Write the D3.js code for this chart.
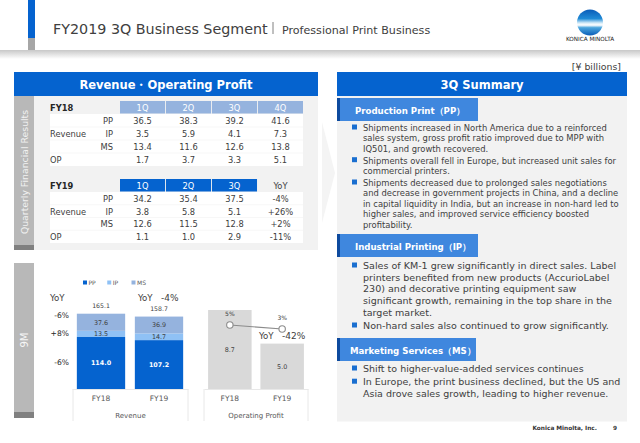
<!DOCTYPE html>
<html>
<head>
<meta charset="utf-8">
<script src="https://cdn.jsdelivr.net/npm/d3@7"></script>
<style>
html, body { margin: 0; padding: 0; background: #fff; }
svg { display: block; }
text { font-family: "DejaVu Sans", sans-serif; fill: #404040; }
</style>
</head>
<body>
<svg width="640" height="443"></svg>
<script>
// quarterly tables
const quarters18 = ['1Q', '2Q', '3Q', '4Q'];
const quarters19 = ['1Q', '2Q', '3Q', 'YoY'];
const rowNames = ['PP', 'IP', 'MS', 'OP'];
const fy18Rows = [
    ['36.5', '38.3', '39.2', '41.6'],
    ['3.5', '5.9', '4.1', '7.3'],
    ['13.4', '11.6', '12.6', '13.8'],
    ['1.7', '3.7', '3.3', '5.1']
];
const fy19Rows = [
    ['34.2', '35.4', '37.5', '-4%'],
    ['3.8', '5.8', '5.1', '+26%'],
    ['12.6', '11.5', '12.8', '+2%'],
    ['1.1', '1.0', '2.9', '-11%']
];

// 9M charts
const years = ['FY18', 'FY19'];
const segments = ['PP', 'IP', 'MS'];
const segColors = ['#0563cf', '#8fc1f5', '#95b3de'];
const ppValues = [114.0, 107.2];
const ipValues = [13.5, 14.7];
const msValues = [37.6, 36.9];
const revenueTotals = [165.1, 158.7];
const segYoY = ['-6%', '+8%', '-6%'];
const opValues = [8.7, 5.0];
const opMargin = [5, 3];

// right hand text
const ppLines = [
    ['Shipments increased in North America due to a reinforced', 'sales system, gross profit ratio improved due to MPP with', 'IQ501, and growth recovered.'],
    ['Shipments overall fell in Europe, but increased unit sales for', 'commercial printers.'],
    ['Shipments decreased due to prolonged sales negotiations', 'and decrease in government projects in China, and a decline', 'in capital liquidity in India, but an increase in non-hard led to', 'higher sales, and improved service efficiency boosted', 'profitability.']
];
const ipLines = [
    ['Sales of KM-1 grew significantly in direct sales. Label', 'printers benefited from new products (AccurioLabel', '230) and decorative printing equipment saw', 'significant growth, remaining in the top share in the', 'target market.'],
    ['Non-hard sales also continued to grow significantly.']
];
const msLines = [
    ['Shift to higher-value-added services continues'],
    ['In Europe, the print business declined, but the US and', 'Asia drove sales growth, leading to higher revenue.']
];

const svg = d3.select('svg');
const defs = svg.append('defs');

// helpers
function rect(g, x, y, w, h, fill) {
    return g.append('rect').attr('x', x).attr('y', y).attr('width', w).attr('height', h).attr('fill', fill);
}
function label(g, x, y, str, size, anchor, color, weight) {
    return g.append('text').attr('x', x).attr('y', y).text(str)
        .attr('font-size', size).attr('text-anchor', anchor || 'start')
        .style('fill', color || '#404040').attr('font-weight', weight || 'normal');
}

// header
const shadow = defs.append('linearGradient').attr('id', 'shadow').attr('x1', 0).attr('x2', 0).attr('y1', 0).attr('y2', 1);
shadow.append('stop').attr('offset', 0).attr('stop-color', '#c8c8c8');
shadow.append('stop').attr('offset', 1).attr('stop-color', '#ffffff');
rect(svg, 0, 50, 640, 9, 'url(#shadow)');
rect(svg, 28, 0, 7, 38, '#0563cf');
rect(svg, 28, 38, 7, 12, '#a6a6a6');
label(svg, 53, 34, 'FY2019 3Q Business Segment', 14.3);
svg.append('line').attr('x1', 273).attr('x2', 273).attr('y1', 22).attr('y2', 34).attr('stroke', '#808080');
label(svg, 282, 34, 'Professional Print Business', 11.1);

// logo
const globe = defs.append('linearGradient').attr('id', 'globe').attr('x1', 0).attr('x2', 0).attr('y1', 0).attr('y2', 1);
[[0, '#0a5cb8'], [0.35, '#1f8ad6'], [0.52, '#d5ecf8'], [0.6, '#ffffff'], [0.7, '#4aa5dd'], [1, '#0a5cb8']].forEach(d => {
    globe.append('stop').attr('offset', d[0]).attr('stop-color', d[1]);
});
svg.append('circle').attr('cx', 590).attr('cy', 22.5).attr('r', 13).attr('fill', 'url(#globe)');
label(svg, 590, 41, 'KONICA MINOLTA', 5.7, 'middle', '#222');

label(svg, 621, 70, '[¥ billions]', 9.4, 'end');

// background chevron between the panels
svg.append('path').attr('d', 'M322 122L335 173L322 223Z').attr('fill', '#f4f4f4');

// left panel
rect(svg, 14, 72, 304, 24, '#0563cf');
label(svg, 166, 89, 'Revenue・Operating Profit', 11.5, 'middle', '#fff', 'bold');
rect(svg, 14, 96, 304, 154, '#f2f2f2');
rect(svg, 14, 96, 20, 149, '#b8b8b8');
rect(svg, 14, 245, 20, 5, '#808080');
label(svg, 0, 0, 'Quarterly Financial Results', 9.3, 'middle', '#f2f2f2').attr('transform', 'translate(28,172) rotate(-90)');

const colX = d3.scaleBand().domain([0, 1, 2, 3]).range([120, 303]).paddingInner(0.02);

function drawTable(top, name, heads, rows, headColor, lastPlain, rowsH) {
    const g = svg.append('g');
    rect(g, 50, top + 13, 253, rowsH, '#fff');
    label(g, 50, top + 10, name, 8.3, 'start', '#262626', 'bold');
    const rowY = d3.scaleBand().domain(d3.range(4)).range([top + 13, top + 13 + rowsH]);
    heads.forEach((h, i) => {
        const plain = lastPlain && i == 3;
        if (!plain) rect(g, colX(i), top, colX.bandwidth(), 12.5, headColor);
        label(g, colX(i) + colX.bandwidth() / 2, top + 10, h, 8.3, 'middle', plain ? '#404040' : '#fff');
    });
    rows.forEach((row, r) => {
        const base = rowY(r) + 9.8;
        if (r < 3) label(g, 113, base, rowNames[r], 8.3, 'end');
        row.forEach((v, c) => {
            label(g, colX(c) + colX.bandwidth() / 2, base, v, 8.3, 'middle');
        });
        if (r > 0) g.append('line').attr('x1', 50).attr('x2', 303).attr('y1', rowY(r)).attr('y2', rowY(r)).attr('stroke', '#f2f2f2').attr('stroke-width', 0.6);
    });
    label(g, 50, rowY(1) + 9.8, 'Revenue', 8.3);
    label(g, 50, rowY(3) + 9.8, 'OP', 8.3);
}
drawTable(101, 'FY18', quarters18, fy18Rows, '#95b3de', false, 52);
drawTable(179, 'FY19', quarters19, fy19Rows, '#0563cf', true, 51);

// 9M block
rect(svg, 14, 263, 20, 149, '#b8b8b8');
rect(svg, 14, 412, 20, 6, '#808080');
label(svg, 0, 0, '9M', 10, 'middle', '#f6f6f6').attr('transform', 'translate(28,340) rotate(-90)');

// legend
const legendX = d3.scalePoint().domain(segments).range([83, 131.5]);
segments.forEach((s, i) => {
    rect(svg, legendX(s), 280.5, 4, 4, segColors[i]);
    label(svg, legendX(s) + 5.5, 284.5, s, 6, 'start', '#595959');
});

// stacked revenue bars
const baseY = 389;
const revY = d3.scaleLinear().domain([0, 165.1]).range([baseY, 313.7]);
const revX = d3.scaleBand().domain(years).range([72, 188]).paddingInner(0.167).paddingOuter(0.0835);
const stackRows = years.map((y, i) => ({ year: y, PP: ppValues[i], IP: ipValues[i], MS: msValues[i] }));
const stacked = d3.stack().keys(segments)(stackRows);

svg.append('g').selectAll('g').data(stacked).join('g')
    .attr('fill', (d, i) => segColors[i])
    .selectAll('rect').data(d => d).join('rect')
    .attr('x', d => revX(d.data.year))
    .attr('width', revX.bandwidth())
    .attr('y', d => revY(d[1]))
    .attr('height', d => revY(d[0]) - revY(d[1]));

svg.append('g').selectAll('g').data(stacked).join('g')
    .selectAll('text').data(d => d.map(p => ({ p: p, key: d.key }))).join('text')
    .attr('x', d => revX(d.p.data.year) + revX.bandwidth() / 2)
    .attr('y', d => (revY(d.p[0]) + revY(d.p[1])) / 2 + 2.3)
    .attr('text-anchor', 'middle').attr('font-size', 6.4)
    .attr('font-weight', d => d.key == 'PP' ? 'bold' : 'normal')
    .style('fill', d => d.key == 'PP' ? '#fff' : '#404040')
    .text(d => d.p.data[d.key].toFixed(1));

years.forEach((y, i) => {
    label(svg, revX(y) + revX.bandwidth() / 2, revY(revenueTotals[i]) - 5.5, revenueTotals[i].toFixed(1), 6.2, 'middle');
});

// YoY labels
label(svg, 50, 301, 'YoY', 8.6);
label(svg, 138, 301, 'YoY', 8.6);
label(svg, 161, 301, '-4%', 9);
label(svg, 69, 318, segYoY[0], 7.6, 'end', '#262626');
label(svg, 69, 336, segYoY[1], 7.6, 'end', '#262626');
label(svg, 69, 365, segYoY[2], 7.6, 'end', '#262626');

// operating profit bars
const opY = d3.scaleLinear().domain([0, 8.7]).range([baseY, 310]);
const opX = d3.scaleBand().domain(years).range([204, 308]).paddingInner(0.168).paddingOuter(0.078);
svg.append('g').selectAll('rect').data(opValues).join('rect')
    .attr('x', (d, i) => opX(years[i]))
    .attr('width', opX.bandwidth())
    .attr('y', d => opY(d))
    .attr('height', d => baseY - opY(d))
    .attr('fill', '#d9d9d9');
opValues.forEach((v, i) => {
    label(svg, opX(years[i]) + opX.bandwidth() / 2, (opY(v) + baseY) / 2 + 2.3, v.toFixed(1), 6.4, 'middle');
});

// margin line
const marginY = d3.scaleLinear().domain([3, 5]).range([329, 325]);
const pointX = (d, i) => opX(years[i]) + opX.bandwidth() / 2;
svg.append('path').datum(opMargin)
    .attr('d', d3.line().x(pointX).y(d => marginY(d)))
    .attr('fill', 'none').attr('stroke', '#8c8c8c').attr('stroke-width', 1.2);
svg.append('g').selectAll('circle').data(opMargin).join('circle')
    .attr('cx', pointX).attr('cy', d => marginY(d)).attr('r', 3.2)
    .attr('fill', '#fff').attr('stroke', '#8c8c8c').attr('stroke-width', 1.1);
opMargin.forEach((v, i) => {
    label(svg, pointX(v, i), marginY(v) - 9.3, v + '%', 6, 'middle');
});
label(svg, 259, 339, 'YoY', 8.6);
label(svg, 282, 339, '-42%', 9);

// axis boxes under the charts
function drawAxis(x, name, left, right) {
    const g = svg.append('g').attr('transform', 'translate(0,' + baseY + ')')
        .call(d3.axisBottom(x).tickSize(0).tickPadding(7));
    g.select('.domain').attr('stroke', '#e8e8e8');
    g.selectAll('text').attr('font-size', 7.5).style('fill', '#595959');
    svg.append('line').attr('x1', left).attr('x2', left).attr('y1', baseY).attr('y2', 421).attr('stroke', '#e8e8e8');
    svg.append('line').attr('x1', right).attr('x2', right).attr('y1', baseY).attr('y2', 421).attr('stroke', '#e8e8e8');
    label(svg, (left + right) / 2, 418, name, 7, 'middle', '#595959');
}
drawAxis(revX, 'Revenue', 73, 188);
drawAxis(opX, 'Operating Profit', 204, 308);

// right panel
rect(svg, 337, 72, 290, 24, '#0563cf');
label(svg, 482, 89, '3Q Summary', 11.5, 'middle', '#fff', 'bold');
rect(svg, 337, 96, 290, 325.5, '#f2f2f2');

function section(title, boxY, boxW, titleX, blocks, firstY, lineH, size) {
    rect(svg, 337, boxY, boxW, 23, '#3f87de');
    rect(svg, 337, boxY, 3, 23, '#0d4a9e');
    label(svg, titleX, boxY + 16, title, 8.6, 'start', '#fff', 'bold');
    let y = firstY;
    blocks.forEach(lines => {
        rect(svg, 352, y - 6.5, 5, 5, '#1a6fd0');
        lines.forEach(line => {
            label(svg, 363, y, line, size);
            y += lineH;
        });
        y += 1.5;
    });
}
section('Production Print（PP）', 98, 141, 355, ppLines, 131, 10.4, 8.4);
section('Industrial Printing（IP）', 234, 141, 355, ipLines, 269, 11.7, 9.55);
section('Marketing Services（MS）', 338, 139, 350, msLines, 372, 11.7, 9.5);

// footer
label(svg, 597, 430, 'Konica Minolta, Inc.', 5.8, 'end', '#333', 'bold');
label(svg, 617, 430, '9', 5.8, 'end', '#333', 'bold');
</script>
</body>
</html>
